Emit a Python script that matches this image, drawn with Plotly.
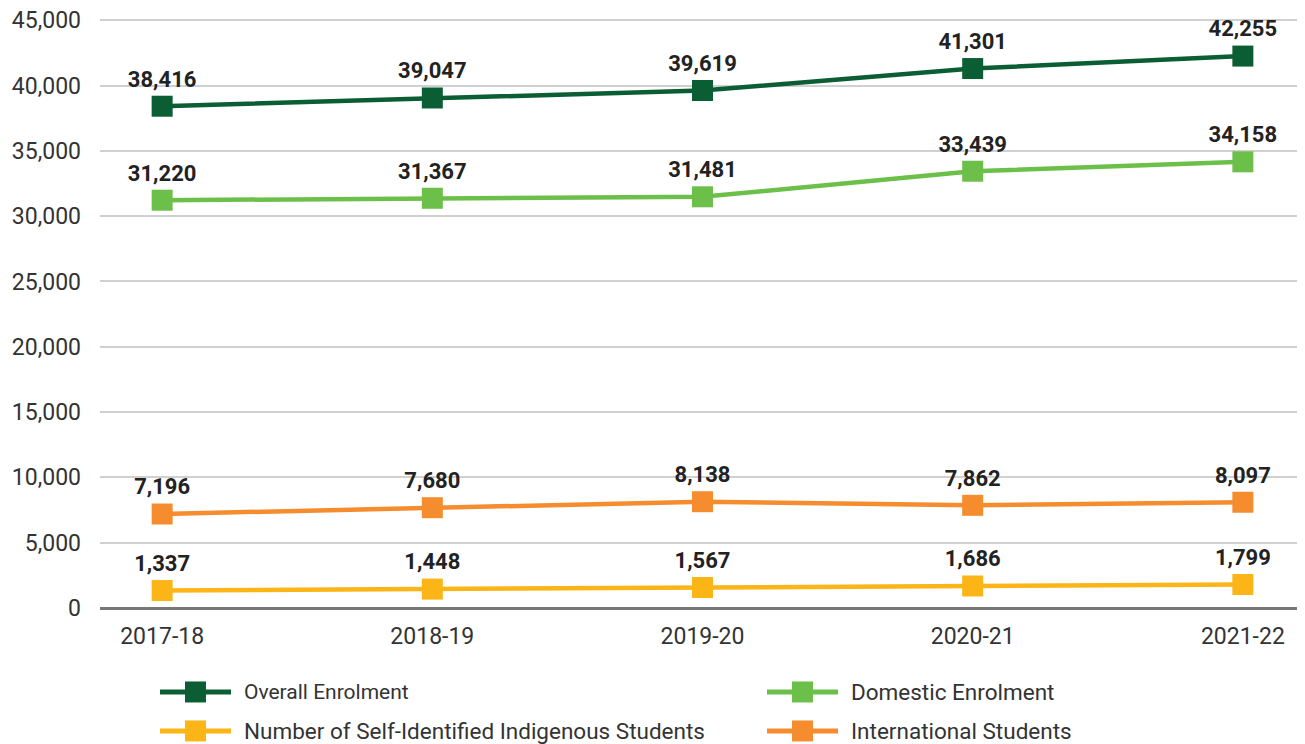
import plotly.graph_objects as go

years = ["2017-18", "2018-19", "2019-20", "2020-21", "2021-22"]
overall = [38416, 39047, 39619, 41301, 42255]
domestic = [31220, 31367, 31481, 33439, 34158]
indigenous = [1337, 1448, 1567, 1686, 1799]
international = [7196, 7680, 8138, 7862, 8097]
y_ticks = [0, 5000, 10000, 15000, 20000, 25000, 30000, 35000, 40000, 45000]

series = [
    ("Overall Enrolment", overall, "#0b5e33"),
    ("Domestic Enrolment", domestic, "#6cc04a"),
    ("Number of Self-Identified Indigenous Students", indigenous, "#fbb516"),
    ("International Students", international, "#f58c2e"),
]

# page is drawn with an 8px body margin; figure sized to fit window
OFF = 8
W, H = 1305 - OFF, 744 - OFF
YMAX = 45400
ML, MR, MB = 100 - OFF, 0, 136
PH = 588 * YMAX / 45000
MT = H - MB - PH
PW = W - ML - MR

fig = go.Figure()
for name, vals, col in series:
    fig.add_trace(go.Scatter(
        x=list(range(len(years))), y=vals, name=name,
        mode="lines+markers+text",
        line=dict(color=col, width=4.5),
        marker=dict(symbol="square", size=21, color=col),
        text=[f"{v:,}" for v in vals],
        textposition="top center",
        textfont=dict(family="Roboto", size=22, color="#222222", weight="bold"),
        cliponaxis=False,
        showlegend=False,
    ))

# custom legend (2 columns x 2 rows), positions in page pixels
legend_pos = [(160, 692), (767, 692), (160, 731), (767, 731)]
legend_sizes = [21, 22.5, 22.5, 22.5]
shapes = []
annotations = []
for (name, vals, col), (lx, ly), fs in zip(series, legend_pos, legend_sizes):
    fx, fy = lx - OFF, ly - OFF
    xp0 = (fx - ML) / PW
    xp1 = (fx + 71 - ML) / PW
    xc = (fx + 35.5 - ML) / PW
    yp = (H - MB - fy) / PH
    shapes.append(dict(type="line", xref="paper", yref="paper",
                       x0=xp0, x1=xp1, y0=yp, y1=yp,
                       line=dict(color=col, width=5)))
    shapes.append(dict(type="rect", xref="paper", yref="paper",
                       xsizemode="pixel", ysizemode="pixel",
                       xanchor=xc, yanchor=yp,
                       x0=-10.5, x1=10.5, y0=-10.5, y1=10.5,
                       fillcolor=col, line=dict(width=0)))
    annotations.append(dict(xref="paper", yref="paper",
                            x=(fx + 82 - ML) / PW, y=yp,
                            xanchor="left", yanchor="middle",
                            text=name, showarrow=False,
                            font=dict(family="Roboto", size=fs, color="#333333")))

fig.update_layout(
    width=W, height=H,
    margin=dict(l=ML, r=MR, t=MT, b=MB, autoexpand=False),
    paper_bgcolor="white", plot_bgcolor="white",
    font=dict(family="Roboto", color="#333333"),
    xaxis=dict(
        tickmode="array", tickvals=list(range(len(years))), ticktext=years,
        range=[-0.23, 4.23], showgrid=False, zeroline=False,
        tickfont=dict(size=23, color="#333333"), ticks="", ticklen=0,
        ticklabelstandoff=12,
    ),
    yaxis=dict(
        range=[0, YMAX], tickmode="array", tickvals=y_ticks,
        tickformat=",", ticklabeloverflow="allow",
        showgrid=True, gridcolor="#d0d0d0", gridwidth=1.5,
        zeroline=True, zerolinecolor="#777777", zerolinewidth=2.5,
        tickfont=dict(size=23, color="#333333"), ticks="", ticklen=0,
        ticklabelstandoff=18,
    ),
    showlegend=False,
    shapes=shapes,
    annotations=annotations,
)

fig.write_html("out.html")
